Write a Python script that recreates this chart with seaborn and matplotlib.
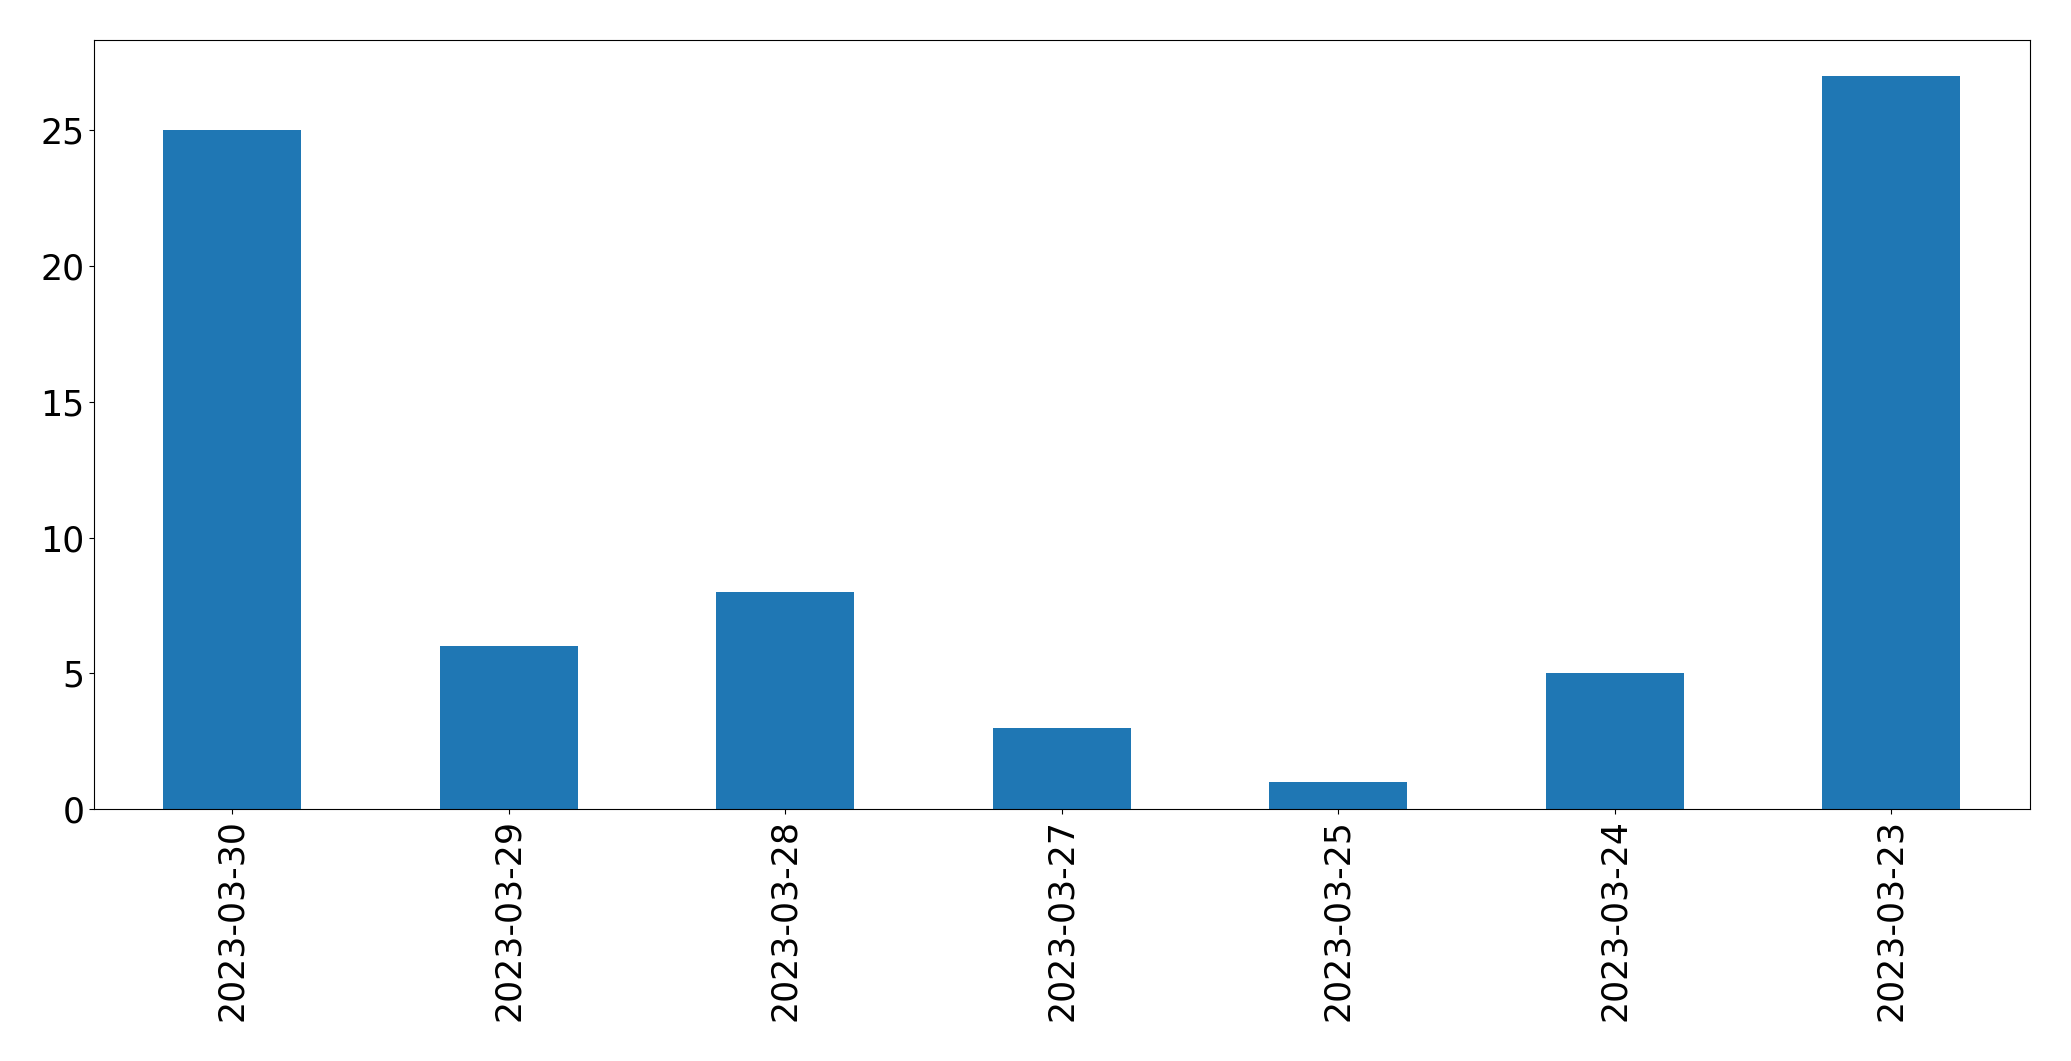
import pandas as pd
import matplotlib
matplotlib.use("Agg")
import matplotlib.pyplot as plt
import seaborn as sns

# Data
dates = ["2023-03-30", "2023-03-29", "2023-03-28", "2023-03-27",
         "2023-03-25", "2023-03-24", "2023-03-23"]
counts = [25, 6, 8, 3, 1, 5, 27]

df = pd.DataFrame({"date": dates, "count": counts})

fig, ax = plt.subplots(figsize=(20.71, 10.61), dpi=100)
sns.barplot(data=df, x="date", y="count", order=dates, color="#1f77b4",
            saturation=1, width=0.5, ax=ax)

ax.set_xlim(-0.5, len(dates) - 0.5)
ax.set_ylim(0, max(counts) * 1.05)
ax.set_xlabel("")
ax.set_ylabel("")
ax.tick_params(axis="both", labelsize=25)
ax.tick_params(axis="x", labelrotation=90)

fig.subplots_adjust(left=0.0454, right=0.980, bottom=0.2375, top=0.9627)
fig.savefig("out.png", dpi=100)
